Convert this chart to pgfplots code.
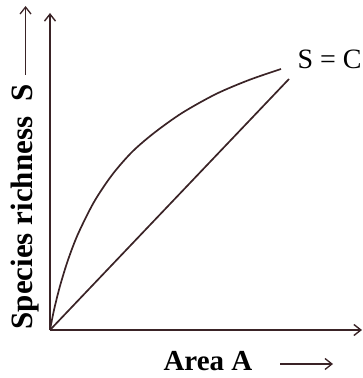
\documentclass[border=0pt]{standalone}
\usepackage{fontspec}
\setmainfont{Liberation Serif}
\usepackage{pgfplots}
\pgfplotsset{compat=1.18}
\usetikzlibrary{arrows.meta}
\definecolor{ink}{HTML}{3A2326}

\begin{document}
\begin{tikzpicture}
\useasboundingbox (-50pt,-48pt) rectangle (313pt,330pt);
\begin{axis}[
    at={(0pt,0pt)}, anchor=origin,
    x=1pt, y=1pt,
    xmin=0, xmax=312, ymin=0, ymax=317,
    enlargelimits=false,
    axis lines=left,
    axis line style={ink, line width=1.8pt,
      -{Straight Barb[length=7pt,width=11pt,line width=1.4pt]}},
    xtick=\empty, ytick=\empty,
    clip=false,
]
% S = C A^z, on a linear scale
\addplot[ink, line width=1.7pt, smooth] coordinates {
  (0,0)(4,20)(10,44)(18,70)(28,96)(44,128)(62,155)(82,178)
  (104,197)(132,217)(166,236)(199,250)(231,261)};
\addplot[ink, line width=1.7pt] coordinates {(0,0)(239,251)};
\end{axis}

% axis labels
\node[rotate=90, anchor=base west, font=\fontsize{31}{36}\bfseries\selectfont]
  (lab) at (-17pt,-3pt) {Species richness\hspace{0.5em}S};
\draw[ink, line width=1.5pt, -{Straight Barb[length=7pt,width=11pt,line width=1.3pt]}]
  ([yshift=6pt]lab.east) -- ([yshift=6pt]lab.east |- 0,318pt);
\node[anchor=base west, font=\fontsize{29}{34}\bfseries\selectfont]
  at (110pt,-40pt) {Area A};
\draw[ink, line width=1.5pt, -{Straight Barb[length=7pt,width=11pt,line width=1.3pt]}]
  (230pt,-34pt) -- (283pt,-34pt);
\node[anchor=base west, font=\fontsize{28}{32}\selectfont]
  at (244pt,261pt) {S = C};
\end{tikzpicture}
\end{document}
